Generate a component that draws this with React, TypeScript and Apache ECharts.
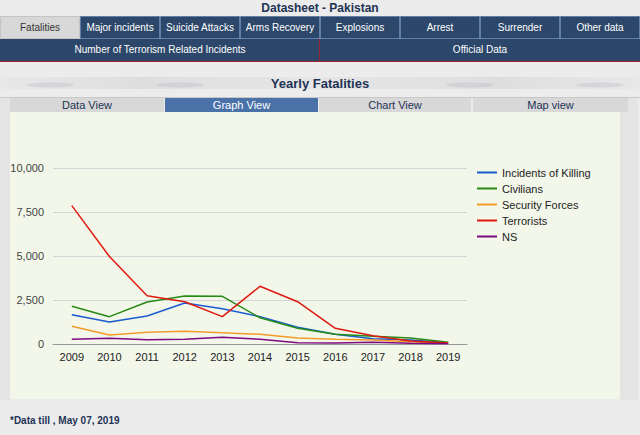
import React, { useEffect, useRef } from "react";
import * as echarts from "echarts";

const years = ["2009", "2010", "2011", "2012", "2013", "2014", "2015", "2016", "2017", "2018", "2019"];
const incidentsOfKilling = [1667, 1250, 1591, 2330, 2008, 1553, 947, 550, 303, 227, 75];
const civilians = [2140, 1553, 2386, 2727, 2708, 1490, 890, 550, 435, 340, 95];
const securityForces = [1004, 511, 663, 720, 644, 550, 340, 265, 227, 132, 40];
const terrorists = [7860, 4970, 2745, 2404, 1553, 3278, 2404, 890, 472, 170, 60];
const ns = [265, 322, 246, 265, 379, 265, 75, 57, 95, 38, 19];

const topTabs = ["Fatalities", "Major incidents", "Suicide Attacks", "Arms Recovery", "Explosions", "Arrest", "Surrender", "Other data"];
const secondTabs = ["Number of Terrorism Related Incidents", "Official Data"];
const viewTabs = ["Data View", "Graph View", "Chart View", "Map view"];

const FONT = "'Liberation Sans', Arial, Helvetica, sans-serif";
const NAVY = "#2c4769";
const TXT_NAVY = "#1e3354";

export default function App() {
  const ref = useRef<HTMLDivElement>(null);
  useEffect(() => {
    if (!ref.current) return;
    const chart = echarts.init(ref.current, undefined, { renderer: "svg" });
    const graphics: any[] = [];
    // page title
    graphics.push({ type: "text", x: 320, y: 8, z: 5, style: { text: "Datasheet - Pakistan", fill: TXT_NAVY, font: `bold 12px ${FONT}`, textAlign: "center", textVerticalAlign: "middle" } });
    // top tabs
    topTabs.forEach((t, i) => {
      const x = i * 80;
      graphics.push({ type: "rect", z: 1, shape: { x: x + 0.5, y: 16.5, width: 79, height: 22 }, style: { fill: i === 0 ? "#d8d8d8" : NAVY, stroke: i === 0 ? "#c4c4c4" : "#5f7fa8", lineWidth: 1 } });
      graphics.push({ type: "text", z: 5, x: x + 40, y: 27.5, style: { text: t, fill: i === 0 ? "#333" : "#fff", font: `10px ${FONT}`, textAlign: "center", textVerticalAlign: "middle" } });
    });
    // second row
    secondTabs.forEach((t, i) => {
      const x = i * 320;
      graphics.push({ type: "rect", z: 1, shape: { x, y: 39, width: 320, height: 23 }, style: { fill: NAVY } });
      graphics.push({ type: "text", z: 5, x: x + 160, y: 49.5, style: { text: t, fill: "#fff", font: `10px ${FONT}`, textAlign: "center", textVerticalAlign: "middle" } });
    });
    graphics.push({ type: "line", z: 3, shape: { x1: 0, y1: 61.5, x2: 640, y2: 61.5 }, style: { stroke: "#9c2233", lineWidth: 1 } });
    graphics.push({ type: "line", z: 3, shape: { x1: 319.5, y1: 39, x2: 319.5, y2: 62 }, style: { stroke: "#9c2233", lineWidth: 1 } });
    // yearly fatalities band
    graphics.push({ type: "rect", z: 1, shape: { x: 0, y: 77, width: 640, height: 12 }, style: { fill: new echarts.graphic.LinearGradient(0, 0, 1, 0, [
      { offset: 0, color: "#e8e8e8" }, { offset: 0.22, color: "#dedede" }, { offset: 0.5, color: "#e6e6e6" }, { offset: 0.78, color: "#dedede" }, { offset: 1, color: "#e8e8e8" }]) } });
    [[50, 85], [180, 85], [470, 85], [600, 85]].forEach(([cx, cy]) => {
      graphics.push({ type: "ellipse", z: 2, shape: { cx, cy, rx: 24, ry: 2.5 }, style: { fill: "#b4b9c2", opacity: 0.35 } });
    });
    graphics.push({ type: "text", z: 5, x: 320, y: 83, style: { text: "Yearly Fatalities", fill: TXT_NAVY, font: `bold 13px ${FONT}`, textAlign: "center", textVerticalAlign: "middle" } });
    // frame line
    graphics.push({ type: "line", z: 1, shape: { x1: 0, y1: 97.5, x2: 640, y2: 97.5 }, style: { stroke: "#c8c8c8", lineWidth: 1 } });
    graphics.push({ type: "rect", z: 0, shape: { x: 0, y: 98, width: 10, height: 302 }, style: { fill: "#e4e4e4" } });
    graphics.push({ type: "rect", z: 0, shape: { x: 620, y: 98, width: 18, height: 302 }, style: { fill: "#e4e4e4" } });
    // view tabs
    const vt = [[10, 154], [165, 153], [319, 152], [473, 155]];
    viewTabs.forEach((t, i) => {
      const [x, w] = vt[i];
      const active = i === 1;
      graphics.push({ type: "rect", z: 1, shape: { x, y: 98, width: w, height: 14 }, style: { fill: active ? "#4a72a8" : "#d8d8d8" } });
      graphics.push({ type: "text", z: 5, x: x + w / 2, y: 105, style: { text: t, fill: active ? "#fff" : TXT_NAVY, font: `11px ${FONT}`, textAlign: "center", textVerticalAlign: "middle" } });
    });
    // panel
    graphics.push({ type: "rect", z: -10, shape: { x: 10, y: 112, width: 610, height: 287 }, style: { fill: "#f2f7ea" } });
    // footer
    graphics.push({ type: "text", z: 5, x: 10, y: 420, style: { text: "*Data till , May 07, 2019", fill: TXT_NAVY, font: `bold 10px ${FONT}`, textAlign: "left", textVerticalAlign: "middle" } });

    const mk = (name: string, data: number[], color: string) => ({
      name, type: "line", data, showSymbol: false, symbol: "none",
      lineStyle: { color, width: 1.5 }, itemStyle: { color }, z: 3,
    });

    chart.setOption({
      animation: false,
      backgroundColor: "#ececec",
      textStyle: { fontFamily: FONT },
      graphic: { elements: graphics },
      grid: { left: 53, right: 173, top: 168, bottom: 91, containLabel: false },
      xAxis: {
        type: "category", data: years, boundaryGap: true,
        axisLine: { lineStyle: { color: "#999", width: 1 } },
        axisTick: { show: false },
        axisLabel: { color: "#222", fontSize: 11, margin: 7, fontFamily: FONT },
      },
      yAxis: {
        type: "value", min: 0, max: 10000, interval: 2500,
        axisLine: { show: false }, axisTick: { show: false },
        axisLabel: { color: "#444", fontSize: 11, margin: 9, fontFamily: FONT, formatter: (v: number) => v.toLocaleString("en-US") },
        splitLine: { lineStyle: { color: "#d4d4d4", width: 1 } },
      },
      legend: {
        orient: "vertical", left: 472, top: 162, itemWidth: 20, itemHeight: 2, itemGap: 5,
        icon: "rect",
        textStyle: { color: "#222", fontSize: 11, fontFamily: FONT },
        data: ["Incidents of Killing", "Civilians", "Security Forces", "Terrorists", "NS"],
      },
      series: [
        mk("Incidents of Killing", incidentsOfKilling, "#1a5bd0"),
        mk("Civilians", civilians, "#268a15"),
        mk("Security Forces", securityForces, "#f59a2a"),
        mk("Terrorists", terrorists, "#de1a10"),
        mk("NS", ns, "#7d0a80"),
      ],
    });
    return () => chart.dispose();
  }, []);
  return <div ref={ref} style={{ position: "absolute", left: 0, top: 0, width: 640, height: 435 }} />;
}
